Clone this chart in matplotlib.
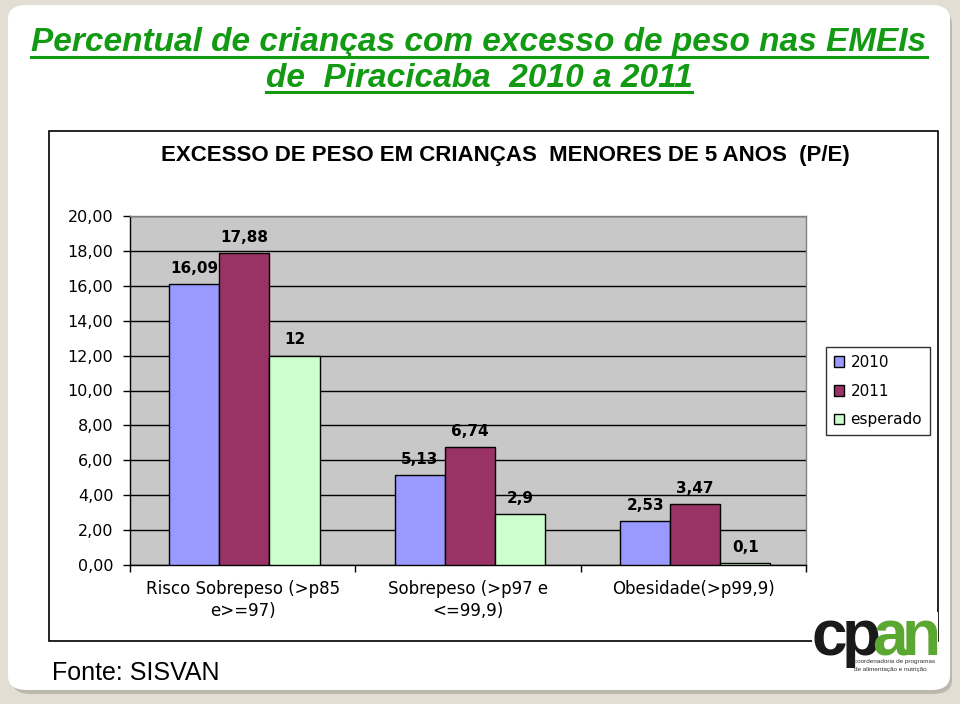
import matplotlib
matplotlib.use("Agg")
import matplotlib.pyplot as plt
from matplotlib.patches import Rectangle, FancyBboxPatch, Patch
from matplotlib.lines import Line2D
import numpy as np

# ---- data ----
categories = ["Risco Sobrepeso (>p85\ne>=97)", "Sobrepeso (>p97 e\n<=99,9)", "Obesidade(>p99,9)"]
series_names = ["2010", "2011", "esperado"]
values_2010 = [16.09, 5.13, 2.53]
values_2011 = [17.88, 6.74, 3.47]
values_esperado = [12, 2.9, 0.1]
labels_2010 = ["16,09", "5,13", "2,53"]
labels_2011 = ["17,88", "6,74", "3,47"]
labels_esperado = ["12", "2,9", "0,1"]
yticks = [0, 2, 4, 6, 8, 10, 12, 14, 16, 18, 20]

colors = ["#9999ff", "#993366", "#ccffcc"]

W, H = 960, 704
fig = plt.figure(figsize=(W / 100, H / 100), dpi=100)
fig.patch.set_facecolor("#e2ded3")

def fx(x):
    return x / W

def fy(y):
    return 1 - y / H

# slide background with shadow
shadow = FancyBboxPatch((fx(12), fy(694)), fx(940), (684) / H,
                        boxstyle="round,pad=0,rounding_size=0.02",
                        transform=fig.transFigure, facecolor="#bdb8ac",
                        edgecolor="none", zorder=0)
fig.add_artist(shadow)
slide = FancyBboxPatch((fx(8), fy(690)), fx(942), (685) / H,
                       boxstyle="round,pad=0,rounding_size=0.02",
                       transform=fig.transFigure, facecolor="white",
                       edgecolor="none", zorder=0.5)
fig.add_artist(slide)

# Title
title_font = ["Liberation Sans", "DejaVu Sans"]
green = "#129a12"
t1 = fig.text(fx(479), fy(51), "Percentual de crianças com excesso de peso nas EMEIs",
              ha="center", va="baseline", fontsize=24, fontweight="bold",
              fontstyle="italic", color=green, family=title_font, zorder=3)
t2 = fig.text(fx(479), fy(87), "de  Piracicaba  2010 a 2011",
              ha="center", va="baseline", fontsize=24, fontweight="bold",
              fontstyle="italic", color=green, family=title_font, zorder=3)

# chart box
box = Rectangle((fx(49), fy(641)), fx(938 - 49), (641 - 131) / H,
                transform=fig.transFigure, facecolor="white",
                edgecolor="black", linewidth=1.2, zorder=1)
fig.add_artist(box)

fig.text(fx(505), fy(155), "EXCESSO DE PESO EM CRIANÇAS  MENORES DE 5 ANOS  (P/E)",
         ha="center", va="center", fontsize=16, fontweight="bold",
         family=["Liberation Sans", "DejaVu Sans"], color="black", zorder=3)

fam = ["DejaVu Sans"]

# axes
ax = fig.add_axes([fx(130), fy(565), fx(806 - 130), (565 - 216) / H])
ax.set_zorder(2)
ax.set_facecolor("#c8c8c8")
x = np.arange(len(categories))
bw = 0.222
series = [values_2010, values_2011, values_esperado]
labels = [labels_2010, labels_2011, labels_esperado]
for i, (vals, labs) in enumerate(zip(series, labels)):
    bars = ax.bar(x + (i - 1) * bw + 0.008, vals, bw, color=colors[i],
                  edgecolor="black", linewidth=1, zorder=3, label=series_names[i])
    for b, lab in zip(bars, labs):
        ax.annotate(lab, (b.get_x() + b.get_width() / 2, b.get_height()),
                    xytext=(0, 6), textcoords="offset points",
                    ha="center", va="bottom", fontsize=11, fontweight="bold",
                    family=fam, zorder=4)

ax.set_xlim(-0.5, 2.5)
ax.set_ylim(0, 20)
ax.set_yticks(yticks)
ax.set_yticklabels([f"{v:.2f}".replace(".", ",") for v in yticks],
                   family=fam, fontsize=11.5)
ax.yaxis.grid(True, color="black", linewidth=1)
ax.set_axisbelow(True)
ax.set_xticks(x)
ax.set_xticklabels(categories, family=fam, fontsize=12, linespacing=1.25)
ax.set_xticks([-0.5, 0.5, 1.5, 2.5], minor=True)
ax.tick_params(axis="x", which="major", length=0, pad=11)
ax.tick_params(axis="x", which="minor", length=5, width=1, direction="out", color="black")
ax.tick_params(axis="y", length=5, width=1, direction="out", pad=7, color="black")
for s in ["top", "right"]:
    ax.spines[s].set_color("#808080")
    ax.spines[s].set_linewidth(1)
for s in ["left", "bottom"]:
    ax.spines[s].set_color("black")
    ax.spines[s].set_linewidth(1)

# legend
handles = [Patch(facecolor=c, edgecolor="black", linewidth=1) for c in colors]
leg = fig.legend(handles, series_names, loc="center",
                 bbox_to_anchor=(fx(878), fy(391)), frameon=True,
                 prop={"family": fam, "size": 11},
                 handlelength=0.7, handleheight=0.7, handletextpad=0.4,
                 labelspacing=0.9, borderpad=0.5, fancybox=False)
leg.get_frame().set_edgecolor("black")
leg.get_frame().set_linewidth(1)
leg.set_zorder(5)

# source
fig.text(fx(52), fy(680), "Fonte: SISVAN", ha="left", va="baseline", fontsize=18,
         family=["Liberation Sans", "DejaVu Sans"], color="black", zorder=3)

# logo (text approximation)
logo_bg = Rectangle((fx(812), fy(678)), fx(126), 66 / H, transform=fig.transFigure,
                    facecolor="white", edgecolor="none", zorder=4)
fig.add_artist(logo_bg)
for ch, lx, col in [("c", 811, "#1a1a1a"), ("p", 842, "#1a1a1a"),
                    ("a", 872, "#5aa832"), ("n", 902, "#5aa832")]:
    fig.text(fx(lx), fy(655), ch, ha="left", va="baseline", fontsize=46,
             fontweight="bold", color=col, family=["Liberation Sans", "DejaVu Sans"], zorder=5)
fig.text(fx(854), fy(663), "coordenadoria de programas", ha="left", va="baseline",
         fontsize=4.6, color="#333333", family=["Liberation Sans"], zorder=6)
fig.text(fx(854), fy(671), "de alimentação e nutrição", ha="left", va="baseline",
         fontsize=4.6, color="#333333", family=["Liberation Sans"], zorder=6)

# underline titles
fig.canvas.draw()
r = fig.canvas.get_renderer()
for t, uy in [(t1, 57), (t2, 92)]:
    bb = t.get_window_extent(renderer=r)
    fig.add_artist(Line2D([bb.x0 / W, bb.x1 / W], [fy(uy), fy(uy)],
                          transform=fig.transFigure, color=green, linewidth=2.2, zorder=3))

fig.savefig("out.png", dpi=100, facecolor=fig.get_facecolor())
